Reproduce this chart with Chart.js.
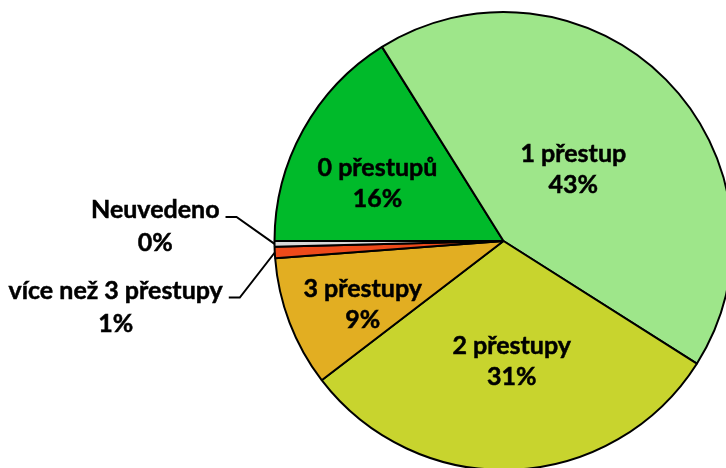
<!DOCTYPE html>
<html>
<head>
<meta charset="utf-8">
<script src="https://cdn.jsdelivr.net/npm/chart.js@4.4.1/dist/chart.umd.min.js"></script>
<style>
  html, body { margin: 0; padding: 0; background: #fff; overflow: hidden; }
  #wrap { position: absolute; left: 0; top: 0; width: 726px; height: 468px; overflow: hidden; }
  #chart { position: absolute; left: 0; top: 0; }
</style>
</head>
<body>
<div id="wrap"><canvas id="chart" width="780" height="500"></canvas></div>
<script>
//-----------------------------------------------------------------------------
// Data
const categories = ['0 přestupů', '1 přestup', '2 přestupy', '3 přestupy', 'více než 3 přestupy', 'Neuvedeno'];
const shares = [16.1, 42.9, 30.6, 9.2, 0.8, 0.4];
const colors = ['#00BA2A', '#9EE68A', '#C8D42E', '#E2AE22', '#EE4A1A', '#D9D9D9'];

// label placement: [fraction of radius, angle shift in degrees] for inner labels,
// elbow offset of the leader line for outer ones
const labelInside = [[0.6, -5.5], [0.43, 0], [0.54, -1.3], [0.68, -4.4], null, null];
const labelElbow = [null, null, null, null, [-35, 45], [-38, -27]];

const FONT = 'bold 25px Lato, "Open Sans", sans-serif';
const LINE_H = 31;

//-----------------------------------------------------------------------------
// Labels
function percentText(i) {
  const total = shares.reduce(function(a, b) { return a + b; }, 0);
  return Math.round(shares[i] / total * 100) + '%';
}

function boldText(ctx, text, x, y) {
  ctx.fillText(text, x, y);
  ctx.strokeText(text, x, y);
}

const pieLabels = {
  id: 'pieLabels',
  afterDraw(chart) {
    const ctx = chart.ctx;
    const arcs = chart.getDatasetMeta(0).data;
    ctx.save();
    ctx.font = FONT;
    ctx.fillStyle = '#000';
    ctx.textAlign = 'center';
    ctx.textBaseline = 'alphabetic';
    arcs.forEach(function(arc, i) {
      const p = arc.getProps(['x', 'y', 'startAngle', 'endAngle', 'outerRadius'], true);
      const mid = (p.startAngle + p.endAngle) / 2;
      const lines = [categories[i], percentText(i)];
      if (labelInside[i] !== null) {
        const r = p.outerRadius * labelInside[i][0];
        const a = mid + labelInside[i][1] * Math.PI / 180;
        const cx = p.x + Math.cos(a) * r;
        const cy = p.y + Math.sin(a) * r;
        ctx.strokeStyle = '#000';
        ctx.lineWidth = 0.5;
        boldText(ctx, lines[0], cx, cy - 10);
        boldText(ctx, lines[1], cx, cy - 10 + LINE_H);
      } else {
        // leader line from the slice edge out to the left
        const ex = p.x + Math.cos(mid) * p.outerRadius;
        const ey = p.y + Math.sin(mid) * p.outerRadius;
        const bx = ex + labelElbow[i][0];
        const by = ey + labelElbow[i][1];
        ctx.strokeStyle = '#000';
        ctx.lineWidth = 2;
        ctx.beginPath();
        ctx.moveTo(ex, ey);
        ctx.lineTo(bx, by);
        ctx.lineTo(bx - 11, by);
        ctx.stroke();
        ctx.lineWidth = 0.5;
        const w = ctx.measureText(lines[0]).width;
        const tx = bx - 17 - w / 2;
        boldText(ctx, lines[0], tx, by + 1);
        boldText(ctx, lines[1], tx, by + 1 + LINE_H + 2);
      }
    });
    ctx.restore();
  }
};

//-----------------------------------------------------------------------------
// Chart
new Chart(document.getElementById('chart'), {
  type: 'pie',
  data: {
    labels: categories,
    datasets: [{
      data: shares,
      backgroundColor: colors,
      borderColor: '#000',
      borderWidth: 2
    }]
  },
  options: {
    responsive: false,
    animation: false,
    rotation: -90,
    radius: 229,
    layout: { padding: { left: 227, right: 0, top: 0, bottom: 18 } },
    plugins: {
      legend: { display: false },
      tooltip: { enabled: false }
    }
  },
  plugins: [pieLabels]
});
</script>
</body>
</html>
